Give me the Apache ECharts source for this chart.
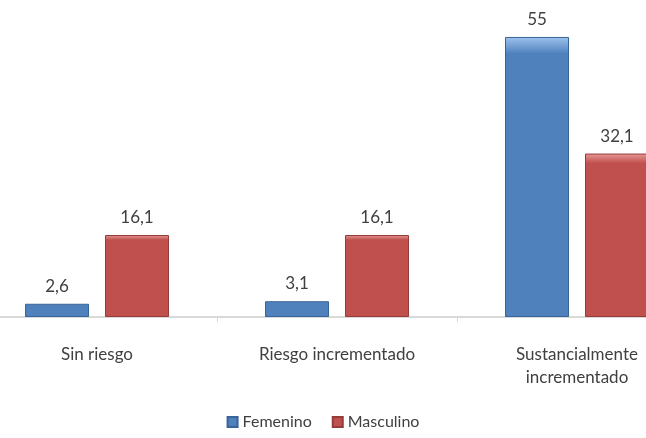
<!DOCTYPE html>
<html>
<head>
<meta charset="utf-8">
<script src="https://cdn.jsdelivr.net/npm/echarts@6/dist/echarts.min.js"></script>
<style>
  html, body { margin: 0; padding: 0; background: #fff; }
  #chart { width: 646px; height: 438px; }
</style>
</head>
<body>
<div id="chart"></div>
<script>
  const categories = ['Sin riesgo', 'Riesgo incrementado', 'Sustancialmente\nincrementado'];
  const femenino = [2.6, 3.1, 55];
  const masculino = [16.1, 16.1, 32.1];
  const seriesNames = ['Femenino', 'Masculino'];

  const fmt = p => String(p.value).replace('.', ',');

  function barStyle(light, main, dark) {
    return {
      color: new echarts.graphic.LinearGradient(0, 0, 0, 1, [
        {offset: 0, color: light},
        {offset: 0.06, color: main},
        {offset: 1, color: main}
      ]),
      borderColor: dark,
      borderWidth: 1
    };
  }

  const labelStyle = {
    show: true,
    position: 'top',
    distance: 9,
    formatter: fmt,
    fontFamily: 'Lato',
    fontSize: 17,
    color: '#404040'
  };

  let myChart = echarts.init(document.getElementById('chart'));
  let option = {
    animation: false,
    legend: {
      data: seriesNames,
      bottom: 3,
      left: 'center',
      itemWidth: 10,
      itemHeight: 10,
      itemGap: 20,
      icon: 'rect',
      textStyle: {fontFamily: 'Lato', fontSize: 16, color: '#404040'}
    },
    grid: {
      left: -23,
      width: 720,
      top: 11.5,
      height: 305.5,
      containLabel: false,
      outerBoundsMode: 'none'
    },
    xAxis: {
      type: 'category',
      data: categories,
      axisLine: {lineStyle: {color: '#d9d9d9', width: 2}},
      axisTick: {show: true, length: 5, lineStyle: {color: '#d9d9d9'}},
      axisLabel: {
        margin: 26,
        fontFamily: 'Lato',
        fontSize: 17,
        lineHeight: 23,
        color: '#404040'
      }
    },
    yAxis: {
      type: 'value',
      min: 0,
      max: 60,
      show: false
    },
    series: [
      {
        name: 'Femenino',
        type: 'bar',
        data: femenino,
        barWidth: 64,
        barGap: '25%',
        itemStyle: barStyle('#9ec3ee', '#4f81bd', '#3a6497'),
        label: labelStyle
      },
      {
        name: 'Masculino',
        type: 'bar',
        data: masculino,
        barWidth: 64,
        barGap: '25%',
        itemStyle: barStyle('#e89896', '#c0504d', '#943c3a'),
        label: labelStyle
      }
    ]
  };
  myChart.setOption(option);
</script>
</body>
</html>
